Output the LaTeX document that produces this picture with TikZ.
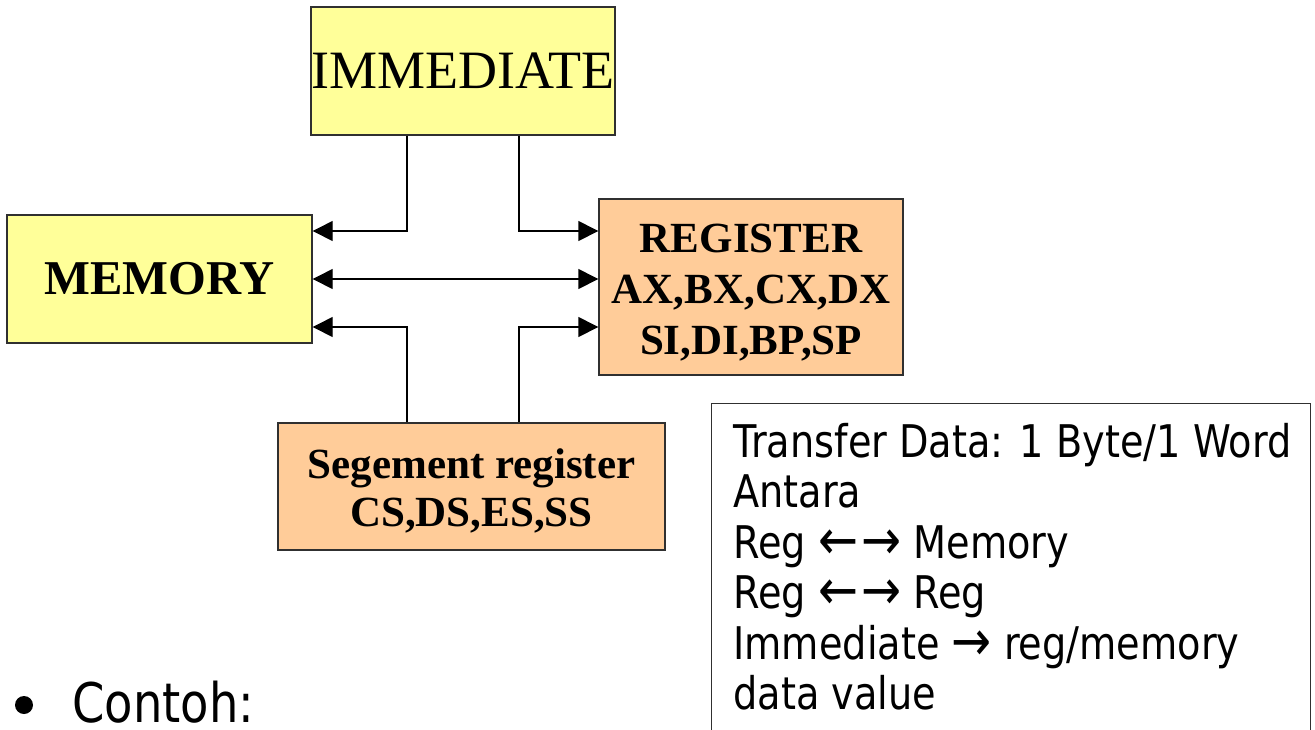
\documentclass[tikz,border=0pt]{standalone}
\usepackage{fontspec}
\setmainfont{Liberation Serif}
\newfontfamily\tah[FakeStretch=0.85]{DejaVu Sans}
\usetikzlibrary{arrows.meta}
\definecolor{boxyellow}{HTML}{FFFF99}
\definecolor{boxorange}{HTML}{FFCC99}
\definecolor{edgegray}{HTML}{303030}
% enlarged text arrows for the note box
\newcommand{\larr}{\smash{\raisebox{-0.5pt}{\scalebox{1.25}{←}}}}
\newcommand{\rarr}{\smash{\raisebox{-0.5pt}{\scalebox{1.25}{→}}}}

\begin{document}
\begin{tikzpicture}[x=0.5pt,y=-0.5pt,
  block/.style={draw=edgegray,line width=0.7pt,inner sep=0pt,align=center},
  arr/.style={line width=0.7pt,-{Triangle[length=10pt,width=10pt]}},
  dbl/.style={line width=0.7pt,{Triangle[length=10pt,width=10pt]}-{Triangle[length=10pt,width=10pt]}},
  info/.style={font=\tah\fontsize{22.5}{25}\selectfont,anchor=base west,inner sep=0pt}]
\useasboundingbox (0,0) rectangle (1315,729);
\clip (0,0) rectangle (1315,729);

% blocks
\node[block,fill=boxyellow,minimum width=152pt,minimum height=64pt,
      font=\fontsize{27}{30}\selectfont] (imm) at (463,71) {IMMEDIATE};
\node[block,fill=boxyellow,minimum width=152.5pt,minimum height=64pt,
      font=\bfseries\fontsize{24.3}{26}\selectfont] (mem) at (159.5,279) {MEMORY};
\node[block,fill=boxorange,minimum width=152pt,minimum height=88pt,
      font=\bfseries\fontsize{21.5}{25.5}\selectfont] (reg) at (751,287)
      {\rule{0pt}{19.5pt}REGISTER\\AX,BX,CX,DX\\SI,DI,BP,SP};
\node[block,fill=boxorange,minimum width=193.5pt,minimum height=63.5pt,
      font=\bfseries\fontsize{21.5}{24}\selectfont] (seg) at (471.5,486.5)
      {\rule{0pt}{19pt}Segement register\\CS,DS,ES,SS};

% bus routing points
\coordinate (iL) at ([shift={(-56,0)}]imm.south);
\coordinate (iR) at ([shift={(56,0)}]imm.south);
\coordinate (mU) at ([shift={(0,-48)}]mem.east);
\coordinate (mD) at ([shift={(0,48)}]mem.east);
\coordinate (rU) at (mU -| reg.west);
\coordinate (rM) at (mem.east -| reg.west);
\coordinate (rD) at (mD -| reg.west);
\coordinate (sL) at (iL |- seg.north);
\coordinate (sR) at (iR |- seg.north);

% connectors
\draw[arr] (iL) |- (mU);
\draw[arr] (iR) |- (rU);
\draw[dbl] (mem.east) -- (rM);
\draw[arr] (sL) |- (mD);
\draw[arr] (sR) |- (rD);

% note box
\node[draw=edgegray,line width=0.7pt,inner sep=0pt,anchor=north west,
      minimum width=299.5pt,minimum height=180pt] (note) at (711,403) {};
\node[info] (t1) at (733,457) {Transfer Data: 1 Byte/1 Word};
\node[info] (t2) at (733,507.5) {Antara};
\node[info] (t3) at (733,558) {Reg \larr\kern1.5pt\rarr{} Memory};
\node[info] (t4) at (733,608.5) {Reg \larr\kern1.5pt\rarr{} Reg};
\node[info] (t5) at (733,659) {Immediate \rarr{} reg/memory};
\node[info] (t6) at (733,709.5) {data value};

% bullet item
\node[circle,fill=black,inner sep=0pt,minimum size=9pt] (bul) at (24,705) {};
\node[font=\tah\fontsize{27.3}{30}\selectfont,anchor=base west,inner sep=0pt] (ex) at (72,722) {Contoh:};
\end{tikzpicture}
\end{document}
